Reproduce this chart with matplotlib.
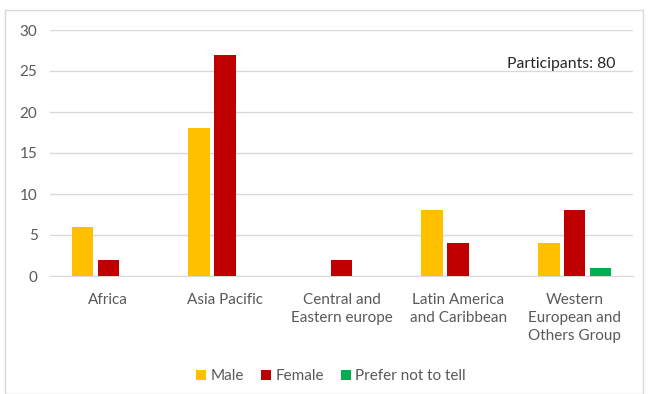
import matplotlib
matplotlib.use("Agg")
import matplotlib.pyplot as plt
import numpy as np
from matplotlib.patches import Rectangle

plt.rcParams['font.family'] = ['Lato', 'DejaVu Sans']

regions = ["Africa", "Asia Pacific", "Central and\nEastern europe",
           "Latin America\nand Caribbean", "Western\nEuropean and\nOthers Group"]
male = [6, 18, 0, 8, 4]
female = [2, 27, 2, 4, 8]
prefer_not = [0, 0, 0, 0, 1]
series_names = ["Male", "Female", "Prefer not to tell"]
colors = ["#FFC000", "#C00000", "#00B050"]
y_ticks = [0, 5, 10, 15, 20, 25, 30]
note = "Participants: 80"

W, H = 648, 394
fig = plt.figure(figsize=(W / 100, H / 100), dpi=100)
fig.patch.set_facecolor("white")

# outer chart frame
fig.patches.append(Rectangle((5 / W, 0), 638 / W, (H - 10) / H, transform=fig.transFigure,
                             fill=False, edgecolor="#d9d9d9", linewidth=1.0))

ax = fig.add_axes([50 / W, 1 - 276 / H, 583 / W, 246 / H])
x = np.arange(len(regions))
width = 0.185
step = 0.222
for i, (vals, name, col) in enumerate(zip([male, female, prefer_not], series_names, colors)):
    v = np.array(vals, dtype=float)
    ax.bar(x + (i - 1) * step, v, width=width, color=col, label=name, zorder=3)

ax.set_xlim(-0.5, len(regions) - 0.5)
ax.set_ylim(0, 30)
ax.set_yticks(y_ticks)
ax.yaxis.grid(True, color="#d9d9d9", linewidth=1.0, zorder=0)
for s in ["top", "right", "left"]:
    ax.spines[s].set_visible(False)
ax.spines["bottom"].set_color("#d9d9d9")
ax.tick_params(axis="both", length=0, colors="#595959", labelsize=11)
ax.tick_params(axis="y", pad=9)
ax.tick_params(axis="x", pad=12)
ax.set_xticks(x)
ax.set_xticklabels(regions, linespacing=1.4)
ax.text(0.97, 25.4, note, ha="right", va="baseline", fontsize=11.3, color="#262626",
        transform=ax.get_yaxis_transform(), zorder=4)

leg = fig.legend(loc="center", bbox_to_anchor=(331 / W, 1 - 376 / H), ncol=3, frameon=False,
                 fontsize=11, handlelength=0.65, handleheight=0.65, handletextpad=0.3,
                 columnspacing=1.1)
for t in leg.get_texts():
    t.set_color("#595959")

fig.savefig("out.png", dpi=100)
